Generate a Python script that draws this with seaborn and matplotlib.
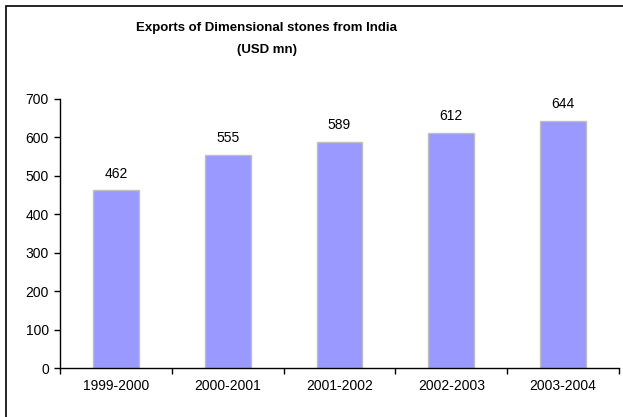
import matplotlib
matplotlib.use('Agg')
import matplotlib.pyplot as plt
import seaborn as sns
from matplotlib.patches import Rectangle

years = ['1999-2000', '2000-2001', '2001-2002', '2002-2003', '2003-2004']
exports = [462, 555, 589, 612, 644]

sns.set_style('white')
plt.rcParams['font.family'] = ['Liberation Sans', 'DejaVu Sans']
plt.rcParams['text.color'] = 'black'
plt.rcParams['xtick.color'] = 'black'
plt.rcParams['ytick.color'] = 'black'

fig = plt.figure(figsize=(6.23, 4.17), dpi=100)
ax = fig.add_axes([60 / 623, 1 - 368 / 417, 559 / 623, 269 / 417])

sns.barplot(x=years, y=exports, color='#9999FF', edgecolor='#C0C0C0',
            linewidth=1, width=0.41, saturation=1, ax=ax)

# value labels above each bar
for i, v in enumerate(exports):
    ax.annotate(str(v), (i, v), xytext=(0, 7), textcoords='offset points',
                ha='center', va='bottom', fontsize=10)

ax.set_ylim(0, 700)
ax.set_xlim(-0.5, 4.5)
ax.set_yticks(range(0, 701, 100))
ax.set_xticks([x - 0.5 for x in range(6)], minor=True)
ax.tick_params(axis='x', which='major', length=0, labelsize=10, pad=8)
ax.tick_params(axis='x', which='minor', length=4, width=1, direction='out', bottom=True)
ax.tick_params(axis='y', length=4, width=1, direction='out', left=True, labelsize=10, pad=4)

for s in ['top', 'right']:
    ax.spines[s].set_visible(False)
for s in ['left', 'bottom']:
    ax.spines[s].set_color('black')
    ax.spines[s].set_linewidth(1)

fig.text(267 / 623, 1 - 28 / 417, 'Exports of Dimensional stones from India',
         ha='center', va='center', fontsize=9.5, fontweight='bold')
fig.text(267 / 623, 1 - 50 / 417, '(USD mn)',
         ha='center', va='center', fontsize=9.5, fontweight='bold')

# chart area border (clipped on right and bottom like the source)
fig.patches.append(Rectangle((6 / 623, -0.1), 1.2, 1 - 6 / 417 + 0.1,
                             transform=fig.transFigure, fill=False,
                             edgecolor='black', linewidth=1.2))

fig.savefig('out.png', dpi=100)
